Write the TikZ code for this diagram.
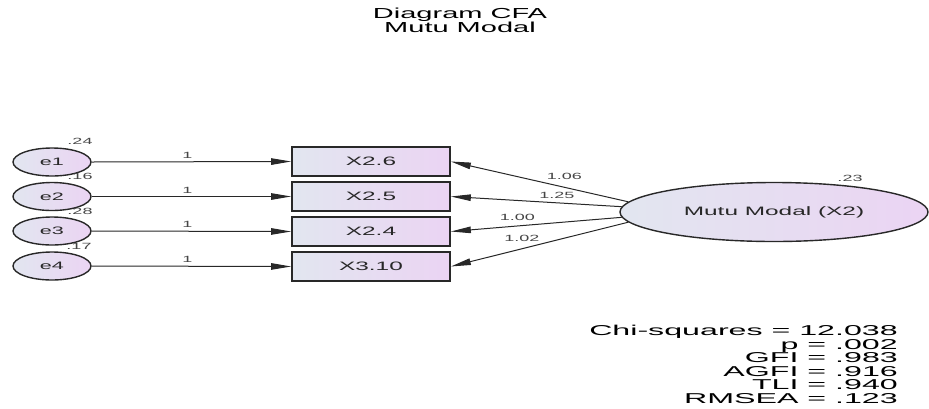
\documentclass[tikz,border=0pt]{standalone}
\usepackage{fontspec}
\setmainfont{Liberation Sans}[FakeStretch=2.0]
\newfontfamily\statfont{Liberation Sans}[FakeStretch=2.25]
\usetikzlibrary{arrows.meta,shapes.geometric}
\definecolor{gl}{RGB}{226,230,240}
\definecolor{gr}{RGB}{235,212,243}
\definecolor{ink}{RGB}{40,40,40}
\definecolor{lbl}{RGB}{70,70,70}
\begin{document}
\begin{tikzpicture}[x=1pt,y=-1pt,
  errnode/.style={ellipse, draw=ink, line width=1.4pt, left color=gl, right color=gr,
    minimum width=78pt, minimum height=28pt, inner sep=0pt, text=ink,
    font=\fontsize{10.8}{12}\selectfont},
  obsbox/.style={rectangle, draw=ink, line width=1.7pt, left color=gl, right color=gr,
    minimum width=158pt, minimum height=29pt, inner sep=0pt, text=ink,
    font=\fontsize{12.2}{14}\selectfont},
  latent/.style={ellipse, draw=ink, line width=1.4pt, left color=gl, right color=gr,
    minimum width=308pt, minimum height=59pt, inner sep=0pt, text=ink,
    font=\fontsize{12.2}{14}\selectfont},
  pathline/.style={draw=ink, line width=1pt, -{Triangle[length=20pt,width=6.5pt]}},
  numlbl/.style={font=\fontsize{9}{10}\selectfont, text=lbl, inner sep=1pt},
  statline/.style={font=\statfont\fontsize{14.3}{15}\selectfont, anchor=base east, inner sep=0pt, text=black},
  ttl/.style={font=\fontsize{14.5}{15}\selectfont, anchor=base, inner sep=0pt, text=black}
]
\useasboundingbox (0,0) rectangle (929,408);

% title
\node[ttl] (t1) at (460,18) {Diagram CFA};
\node[ttl] (t2) at (460,32) {Mutu Modal};

% error terms
\node[errnode] (e1) at (52,162) {e1};
\node[errnode] (e2) at (52,196.5) {e2};
\node[errnode] (e3) at (52,231) {e3};
\node[errnode] (e4) at (52,266) {e4};

\node[numlbl] (v1) at (80,141) {.24};
\node[numlbl] (v2) at (80,176) {.16};
\node[numlbl] (v3) at (80,211) {.28};
\node[numlbl] (v4) at (79,246) {.17};

% observed boxes
\node[obsbox] (b1) at (371,161.5) {X2.6};
\node[obsbox] (b2) at (371,196.5) {X2.5};
\node[obsbox] (b3) at (371,231.5) {X2.4};
\node[obsbox] (b4) at (371,266.5) {X3.10};

% latent
\node[latent] (lat) at (774,212) {Mutu Modal (X2)};
\node[numlbl] (v5) at (850,178) {.23};

% error paths
\draw[pathline] (e1.east) -- node[numlbl, above=2pt, pos=0.48] (l1) {1} (b1.west);
\draw[pathline] (e2.east) -- node[numlbl, above=2pt, pos=0.48] (l2) {1} (b2.west);
\draw[pathline] (e3.east) -- node[numlbl, above=2pt, pos=0.48] (l3) {1} (b3.west);
\draw[pathline] (e4.east) -- node[numlbl, above=2pt, pos=0.48] (l4) {1} (b4.west);

% loadings
\draw[pathline] (lat.176) -- node[numlbl, above=6pt, pos=0.36] (w1) {1.06} (b1.east);
\draw[pathline] (lat.178) -- node[numlbl, above=3pt, pos=0.38] (w2) {1.25} (b2.east);
\draw[pathline] (lat.182) -- node[numlbl, above=4pt, pos=0.61] (w3) {1.00} (b3.east);
\draw[pathline] (lat.184) -- node[numlbl, above=6pt, pos=0.60] (w4) {1.02} (b4.east);

% fit statistics
\node[statline] (s1) at (898,335.7) {Chi-squares = 12.038};
\node[statline] (s2) at (898,349.3) {p = .002};
\node[statline] (s3) at (898,362.8) {GFI = .983};
\node[statline] (s4) at (898,376.4) {AGFI = .916};
\node[statline] (s5) at (898,389.9) {TLI = .940};
\node[statline] (s6) at (898,403.5) {RMSEA = .123};
\end{tikzpicture}
\end{document}
